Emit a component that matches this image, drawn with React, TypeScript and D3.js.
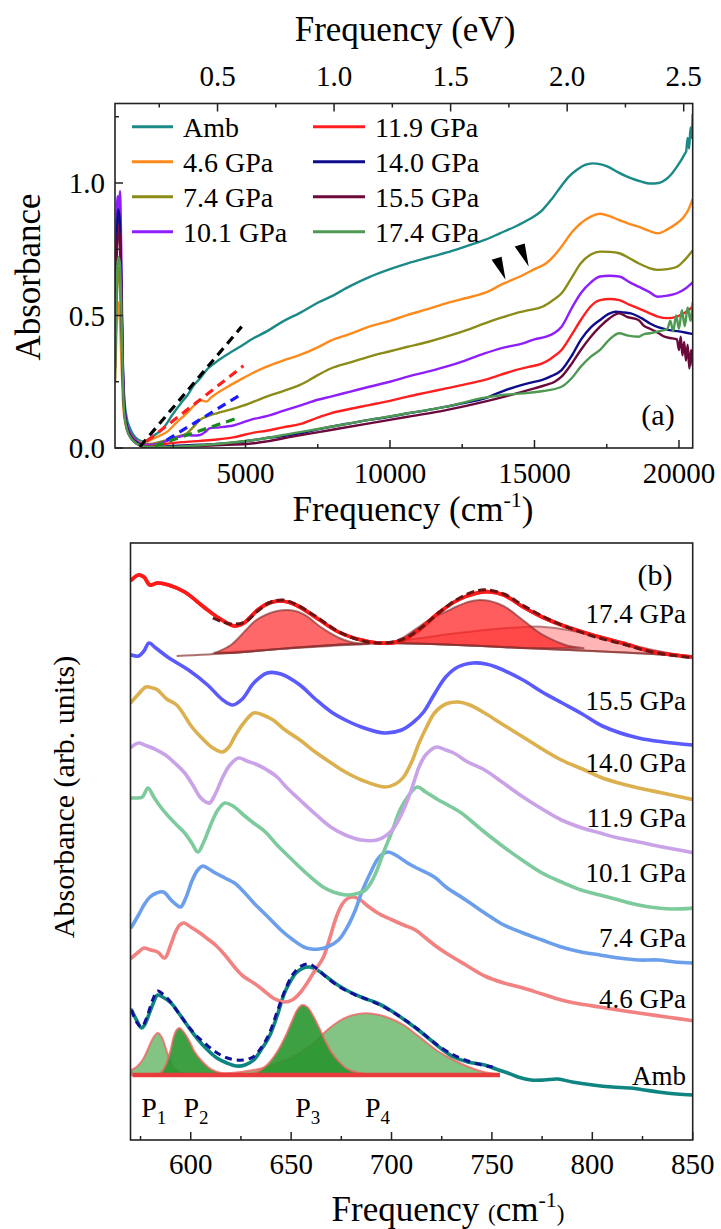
import React from 'react';
import * as d3 from 'd3';

type P = [number, number];

// ================= Panel (a) data =================
const namesA = ['Amb', '4.6 GPa', '7.4 GPa', '10.1 GPa', '11.9 GPa', '14.0 GPa', '15.5 GPa', '17.4 GPa'];
const colorsA = ['#1b8a87', '#ff8a1c', '#8b8b17', '#8f1eff', '#ff1f1f', '#0c0c8c', '#6b0a3a', '#4e9a52'];

const ambA: P[] = [[485,0.35],[540,0.72],[600,0.86],[650,0.8],[700,0.62],[750,0.35],[800,0.2],[880,0.12],[1000,0.075],[1150,0.045],[1300,0.03],[1450,0.025],[1600,0.03],[1800,0.045],[2000,0.06],[2157,0.075],[2500,0.13],[2848,0.18],[3000,0.2],[3200,0.235],[3426,0.262],[3700,0.3],[4003,0.326],[4400,0.355],[4810,0.382],[5289,0.415],[5733,0.44],[6300,0.478],[6886,0.51],[7500,0.548],[7951,0.571],[8600,0.61],[9282,0.645],[10000,0.675],[10613,0.697],[11300,0.718],[11944,0.737],[12600,0.76],[13275,0.785],[13800,0.81],[14340,0.836],[14800,0.862],[15272,0.898],[15600,0.94],[15937,0.99],[16200,1.025],[16470,1.05],[16750,1.068],[17002,1.074],[17300,1.07],[17534,1.062],[17900,1.04],[18333,1.018],[18700,1.005],[18998,0.998],[19300,1.0],[19531,1.012],[19750,1.035],[19930,1.062],[20100,1.09],[20200,1.11],[20250,1.12],[20300,1.17],[20350,1.13],[20400,1.21],[20440,1.17],[20475,1.26]];
const p46A: P[] = [[485,0.25],[540,0.45],[600,0.55],[650,0.5],[700,0.35],[750,0.2],[800,0.12],[900,0.07],[1050,0.04],[1250,0.025],[1450,0.02],[1581,0.025],[1800,0.035],[2000,0.045],[2273,0.06],[2600,0.095],[2965,0.131],[3200,0.158],[3426,0.18],[3657,0.175],[3800,0.19],[4003,0.206],[4400,0.232],[4810,0.257],[5289,0.285],[5733,0.307],[6300,0.33],[6886,0.351],[7500,0.38],[7951,0.405],[8600,0.43],[9282,0.458],[10000,0.48],[10613,0.502],[11300,0.524],[11944,0.546],[12600,0.565],[13275,0.585],[13941,0.621],[14606,0.653],[15000,0.675],[15404,0.697],[15700,0.728],[15937,0.76],[16300,0.815],[16603,0.848],[16950,0.873],[17268,0.884],[17600,0.875],[17934,0.86],[18300,0.845],[18599,0.835],[18950,0.82],[19264,0.81],[19600,0.825],[19930,0.848],[20150,0.87],[20330,0.9],[20475,0.94]];
const p74A: P[] = [[485,0.3],[540,0.55],[600,0.68],[650,0.62],[700,0.45],[750,0.25],[800,0.15],[900,0.08],[1050,0.045],[1250,0.025],[1450,0.015],[1700,0.015],[2000,0.022],[2273,0.03],[2600,0.042],[2965,0.055],[3200,0.08],[3426,0.106],[3700,0.12],[4003,0.131],[4400,0.143],[4810,0.156],[5289,0.175],[5733,0.194],[6300,0.215],[6886,0.238],[7500,0.275],[7951,0.3],[8600,0.322],[9282,0.345],[10000,0.365],[10613,0.382],[11300,0.4],[11944,0.42],[12600,0.443],[13275,0.47],[13800,0.49],[14340,0.508],[14800,0.52],[15272,0.533],[15600,0.555],[15937,0.584],[16300,0.645],[16603,0.697],[16950,0.73],[17268,0.741],[17600,0.74],[17934,0.735],[18300,0.715],[18599,0.697],[18950,0.68],[19264,0.672],[19600,0.675],[19930,0.684],[20200,0.71],[20475,0.745]];
const p101A: P[] = [[485,0.4],[540,0.85],[580,0.95],[620,0.9],[660,0.97],[700,0.75],[750,0.35],[800,0.18],[880,0.1],[1000,0.06],[1150,0.035],[1300,0.02],[1500,0.012],[1800,0.012],[2100,0.02],[2500,0.035],[2800,0.045],[2965,0.049],[3200,0.047],[3426,0.049],[3600,0.06],[3772,0.075],[4100,0.078],[4579,0.085],[5289,0.11],[5733,0.12],[6300,0.14],[6886,0.16],[7500,0.182],[7951,0.194],[8600,0.212],[9282,0.231],[10000,0.25],[10613,0.269],[11300,0.288],[11944,0.307],[12600,0.33],[13275,0.357],[13900,0.378],[14606,0.395],[15000,0.41],[15404,0.42],[15700,0.435],[15937,0.458],[16300,0.53],[16603,0.584],[16950,0.625],[17268,0.647],[17600,0.65],[17934,0.647],[18300,0.625],[18599,0.609],[18950,0.59],[19264,0.571],[19600,0.575],[19930,0.584],[20200,0.6],[20475,0.625]];
const p119A: P[] = [[485,0.35],[540,0.72],[600,0.85],[650,0.8],[700,0.6],[750,0.3],[800,0.16],[900,0.08],[1050,0.045],[1250,0.02],[1500,0.008],[1800,0.008],[2200,0.015],[2800,0.022],[3426,0.027],[4000,0.032],[4579,0.04],[5289,0.058],[5733,0.065],[6300,0.078],[6886,0.09],[7500,0.115],[7951,0.131],[8600,0.147],[9282,0.162],[10000,0.178],[10613,0.194],[11300,0.21],[11944,0.225],[12600,0.24],[13275,0.257],[13800,0.275],[14340,0.294],[14800,0.306],[15272,0.319],[15600,0.34],[15937,0.37],[16300,0.43],[16603,0.483],[16950,0.535],[17268,0.558],[17600,0.562],[17934,0.558],[18300,0.54],[18599,0.527],[18950,0.51],[19264,0.496],[19600,0.49],[19930,0.496],[20200,0.51],[20475,0.533]];
const p140A: P[] = [[485,0.35],[540,0.75],[600,0.9],[650,0.86],[700,0.65],[750,0.32],[800,0.17],[900,0.08],[1050,0.04],[1250,0.02],[1500,0.006],[1800,0.004],[2500,0.008],[3426,0.012],[4000,0.015],[4579,0.02],[5289,0.03],[5733,0.038],[6300,0.045],[6886,0.055],[7500,0.07],[7951,0.08],[8600,0.093],[9282,0.106],[10000,0.118],[10613,0.131],[11300,0.143],[11944,0.156],[12600,0.17],[13275,0.187],[13800,0.21],[14340,0.231],[14800,0.245],[15272,0.257],[15600,0.272],[15937,0.294],[16300,0.35],[16603,0.408],[16950,0.455],[17268,0.483],[17550,0.505],[17801,0.514],[18050,0.512],[18333,0.508],[18700,0.49],[18998,0.47],[19300,0.455],[19664,0.445],[20000,0.44],[20250,0.435],[20475,0.43]];
const p155A: P[] = [[485,0.3],[540,0.68],[600,0.82],[650,0.8],[700,0.6],[750,0.3],[800,0.15],[900,0.07],[1050,0.035],[1250,0.015],[1500,0.004],[2000,0.002],[3000,0.005],[4000,0.01],[5289,0.018],[5733,0.025],[6620,0.043],[7951,0.068],[9282,0.093],[10613,0.118],[11944,0.143],[13275,0.175],[14000,0.195],[14606,0.213],[15000,0.225],[15404,0.238],[15700,0.25],[15937,0.269],[16300,0.32],[16603,0.37],[16950,0.42],[17268,0.458],[17600,0.49],[17934,0.508],[18200,0.495],[18599,0.483],[18800,0.46],[18998,0.45],[19300,0.433],[19500,0.42],[19700,0.415],[19930,0.41],[20000,0.37],[20060,0.42],[20120,0.35],[20180,0.4],[20240,0.33],[20300,0.39],[20360,0.3],[20420,0.37],[20475,0.31]];
const p174A: P[] = [[485,0.25],[540,0.6],[600,0.72],[650,0.7],[700,0.55],[750,0.28],[800,0.14],[900,0.07],[1050,0.035],[1250,0.015],[1500,0.006],[2000,0.004],[3000,0.008],[4000,0.015],[5289,0.03],[6620,0.055],[7951,0.08],[9282,0.106],[10613,0.131],[11944,0.156],[13275,0.19],[13900,0.2],[14606,0.206],[15300,0.215],[15937,0.231],[16300,0.265],[16603,0.307],[16950,0.345],[17268,0.37],[17600,0.41],[17934,0.433],[18200,0.425],[18599,0.42],[18800,0.43],[18998,0.433],[19300,0.44],[19600,0.45],[19700,0.48],[19800,0.44],[19900,0.5],[20000,0.45],[20100,0.52],[20200,0.46],[20300,0.53],[20400,0.48],[20475,0.55]];
const seriesA: P[][] = [ambA, p46A, p74A, p101A, p119A, p140A, p155A, p174A];

// linear-fit dashed segments (panel a)
const fitColorsA = ['#000000', '#ff2020', '#1a1aff', '#1a8a1a'];
const fitSegsA: P[][] = [
  [[1349, 0.005], [4868, 0.458]],
  [[1581, 0.025], [4925, 0.31]],
  [[2273, 0.03], [4751, 0.196]],
  [[1868, 0.008], [4695, 0.112]],
];
const arrowTipsA: P[] = [[14000, 0.635], [14800, 0.685]];

const xTicksA = [5000, 10000, 15000, 20000];
const xMinorA = [2500, 7500, 12500, 17500];
const yTicksA = [0, 0.5, 1.0];
const yMinorA = [0.25, 0.75, 1.25];
const eVTicks = [0.5, 1.0, 1.5, 2.0, 2.5];
const eVMinor = [0.25, 0.75, 1.25, 1.75, 2.25];
const CM_PER_EV = 8065.54;

// ================= Panel (b) data =================
const namesB = ['17.4 GPa', '15.5 GPa', '14.0 GPa', '11.9 GPa', '10.1 GPa', '7.4 GPa', '4.6 GPa', 'Amb'];
const colorsB = ['#ff1a1a', '#5a5aff', '#dcb04e', '#c9a2e8', '#7dca9c', '#6b9fec', '#f28282', '#0f8582'];

const b174: P[] = [[570.5,560],[574,565],[576.7,563],[579.7,555],[583.5,557],[589,555],[597,548],[606.5,533],[614,522],[621.8,514],[626.5,517],[633.3,530],[639,537],[645,539],[652.4,535],[662,523],[673.6,508],[685,500],[696.5,496.7],[706,500],[713.7,510],[723.4,527],[733,540],[742.6,547],[748.3,548.3],[756,545],[765.5,533],[775,523],[784.6,515],[800,505],[815,497],[830.7,488],[850,483]];
const b155: P[] = [[570.5,485],[574,484],[576.7,489],[579.2,497],[582.6,492],[589.2,482],[598.9,470],[608.4,455],[616,440],[620.9,435],[625.7,441],[631.4,457],[638.1,467],[644.9,466],[654.4,455],[662,441],[670,428],[678,419],[685,413],[696.5,407],[705,410],[711,418],[716,428],[721.4,446],[727,463],[733,473],[740.7,477],[747,476],[752,473],[765.5,460],[775,448],[785,437],[795,426],[805,414],[823,402],[850,395]];
const b140: P[] = [[570.5,438],[574,446],[577.7,453],[581,452],[583.5,450],[588,441],[593,435],[600.6,413],[605,403],[610.3,393],[615.7,388],[619,393],[621.8,403],[626,416],[631.4,427],[636,425],[641,420],[647,410],[654.4,400],[662,388],[670,377],[677,368],[685,360],[696.5,353],[702,356],[706,363],[710,378],[713.7,397],[717.5,413],[721.4,427],[727,436],[733,438],[739,435],[746.4,427],[755,416],[765.5,403],[775,391],[784.6,380],[795,371],[803.8,363],[813,357],[823,352],[835,347],[851,340]];
const b119: P[] = [[570.5,393],[574,397],[577,395],[579.7,393],[583,390],[587.4,385],[592,377],[597,367],[601,355],[604.6,343],[607.5,338],[609.4,337],[612,345],[616,363],[619.5,375],[623.8,382],[628,379],[633.4,375],[638,370],[643,363],[648,352],[654.4,340],[662,326],[669.7,313],[677,305],[685,300],[692.8,300],[697,304],[700.4,310],[704,322],[708,340],[711,357],[713.7,373],[717,385],[722.4,393],[727,390],[731,387],[738,378],[746.4,370],[755,358],[765.5,343],[775,331],[784.6,320],[795,312],[803.8,307],[813,302],[823,298],[835,293],[851,287]];
const b101: P[] = [[570.5,342],[573,342],[575.9,343],[578.7,352],[581.6,343],[585,333],[589.2,323],[593,315],[597,307],[600.5,297],[603.6,288],[606.5,298],[610.3,317],[613.5,330],[617,337],[621,334],[627.5,323],[632,316],[637.2,308],[643,295],[650.6,280],[658,266],[665.9,253],[671,248],[677.3,245],[682,246],[687,250],[691,262],[696.5,290],[700.5,310],[704.2,330],[708,343],[712.8,353],[717,348],[723.4,340],[728,335],[734.8,327],[745,310],[755.9,293],[765,280],[775,267],[784.6,258],[794.4,250],[803.8,245],[813.3,240],[823,235],[832.8,232],[840,231],[851,232]];
const b74: P[] = [[570.5,213],[574,225],[577,236],[579.7,243],[583,247],[586.4,248],[590.2,240],[593,235],[595,233],[597.5,242],[600.8,260],[603.5,270],[606,274],[609,271],[612.3,267],[617,262],[621.8,257],[626.5,248],[631.4,237],[638,224],[644.9,210],[651,200],[656.3,193],[660,191],[664,191],[668,193],[673.6,200],[678,213],[682,230],[685,247],[689,265],[692.8,280],[695.5,286],[698.5,288],[702,285],[708,277],[712.5,272],[717.7,267],[722,262],[727.1,253],[737,240],[746.4,227],[755,216],[765.5,207],[775,200],[784.6,193],[794.4,188],[803.8,185],[813.3,182],[823,180],[832.8,180],[841,178],[851,177]];
const b46: P[] = [[570.5,182],[574,188],[576.7,192],[580,190],[583.5,188],[587,182],[590,195],[592.2,207],[594.5,215],[596.6,217],[600,213],[604.6,207],[608.5,201],[612.3,195],[617,185],[621.8,173],[626,164],[631.4,157],[636,150],[641,142],[646.7,138],[650.5,140],[654.4,147],[658,157],[662,170],[665.9,182],[669.7,205],[672.5,223],[675.5,236],[678.5,242],[681.2,243],[684.5,240],[688.8,233],[694,226],[700.4,220],[706,215],[711.9,210],[717,202],[722,194],[727.1,187],[737,175],[746.4,164],[755.9,157],[765.5,152],[775,146],[784.6,140],[794,136],[803.8,133],[813,130],[823,127],[837,123],[851,119]];
const bAmb: P[] = [[570.5,130],[573,120],[575.5,112],[577,115],[578.7,123],[581,135],[583.5,145],[586,143],[590.2,137],[594,127],[598.9,113],[603,102],[608.4,90],[613,82],[618,77],[622.8,74],[627,75],[631.4,80],[635,90],[639,103],[643,124],[646.7,147],[650,160],[652.4,167],[656,172],[659.2,173],[663,170],[669.7,160],[674,154],[679.3,148],[686,142],[692.8,137],[700,129],[708,118],[714,109],[719.5,100],[725,91],[731,83],[738,78],[746.4,75],[752,71],[757.9,67],[763,63],[769.5,60],[776,60],[782.7,61],[790,58],[800.2,55],[810,53],[819.3,52],[826,50],[832.8,48],[842,46],[851,45]];
const seriesB: P[][] = [b174, b155, b140, b119, b101, b74, b46, bAmb];

// 17.4 GPa fit and components
const fit174: P[] = [[611,522],[620,516],[627,518],[634,530],[640,538],[646,540],[652,536],[662,524],[674,508],[686,499],[697,497],[706,501],[714,511],[724,528],[733,541],[742,549],[748,550],[756,546],[766,534],[776,523],[786,514],[800,504],[815,496],[830,488],[850,482]];
const bg174: P[] = [[593,484],[620,487],[650,492],[675,495.5],[696.5,497],[720,496],[745,494],[765,492],[800,489],[830,486],[850,483]];
const compC174: P[] = [[611,487],[640,490.5],[670,494],[696.5,497.5],[715,502],[727,505.5],[742,509],[756,511.7],[766,513],[775,513.3],[788,510],[803.8,503.3],[823,493.3],[838,487],[850,483.3]];
const compA174: P[] = [[612,487],[620,495],[627.5,510],[632,519],[637.2,525],[643,529],[648.7,530],[653,528.5],[658.2,523.3],[664,514],[669.7,506.7],[674,502],[679.3,498.3],[684,496.5],[688.8,496]];
const compB174: P[] = [[700,497],[707,504],[713.7,513.3],[720,522],[727,528.3],[733,534],[738.6,538.3],[744,540],[748.3,539.3],[753,536.5],[757.8,531.7],[762.5,524.5],[767.5,516.7],[772,509.5],[777,503.3],[786.6,495],[796,491.7]];

// Ambient fit and components P1..P4
const fitAmb: P[] = [[570.5,130],[573,118],[575.5,113],[578,122],[581,140],[583.5,149],[586,146],[590,138],[595,124],[601.6,107],[608,95],[614,86],[620,81],[626,80],[631,83],[635,92],[639,106],[643,128],[647,150],[651,166],[655,174],[659,176],[663,171],[668,162],[675,152],[682,145],[690,139],[698,131],[706,121],[713,111],[719,101],[725,92],[731,85],[738,79],[745,75],[750.4,73]];
const baseAmb = 65;
const baseAmbRange: P = [571, 754];
const pk1: P[] = [[570.5,70],[573,73],[576,80],[578.5,90],[581,101],[583.5,107],[585.5,103],[587.5,92],[589.5,80],[592,71],[595,67],[600,65.5]];
const pk2: P[] = [[583,65.5],[585.5,68],[588,77],[590,90],[591.5,103],[593,110],[594.5,112],[596.5,108],[599,100],[602,88],[606,78],[610,71],[615,67],[622,65.5]];
const pk3: P[] = [[628,65.5],[633,68],[638,75],[643,88],[647,103],[650.5,119],[653,130],[655.5,135],[658,133],[661,124],[664,112],[667,99],[670,88],[674,78],[678,71],[684,67],[692,65.5]];
const pk4: P[] = [[605,65.5],[615,66.5],[625,68],[635,71.5],[645,78],[655,88],[662,98],[668,110],[674,119],[680,124.5],[687,126.7],[694,125],[700,121],[706,115],[712,106],[717.7,97],[723,89],[729,82],[735,76],[741,71],[746,68],[752,66]];
const peakNames = ['1', '2', '3', '4'];
const peakLabelX = [581.6, 602.6, 658.3, 693];

const xTicksB = [600, 650, 700, 750, 800, 850];
const xMinorB = [575, 625, 675, 725, 775, 825];

// ================= Layout =================
const FONT = 'Liberation Serif, Times New Roman, DejaVu Serif, serif';
const A = { left: 115, right: 692.7, top: 103.5, bottom: 448 };
const B = { left: 130.5, right: 692.7, top: 543, bottom: 1140 };

const xA = d3.scaleLinear().domain([485, 20475]).range([A.left, A.right]);
const yA = d3.scaleLinear().domain([0, 1.3]).range([A.bottom, A.top]);
const xB = d3.scaleLinear().domain([570, 850]).range([B.left, B.right]);
const yB = d3.scaleLinear().domain([0, 597]).range([B.bottom, B.top]);

const lineA = d3.line<P>().x(d => xA(d[0])).y(d => yA(d[1])).curve(d3.curveMonotoneX);
const lineAStraight = d3.line<P>().x(d => xA(d[0])).y(d => yA(d[1]));
const lineB = d3.line<P>().x(d => xB(d[0])).y(d => yB(d[1])).curve(d3.curveCatmullRom.alpha(0.5));
const areaAmb = d3.area<P>().x(d => xB(d[0])).y0(yB(baseAmb)).y1(d => yB(d[1])).curve(d3.curveCatmullRom.alpha(0.5));

function fillBetween(upper: P[], lower: P[]): string {
  const x0 = upper[0][0], x1 = upper[upper.length - 1][0];
  const low = lower.filter(p => p[0] >= x0 && p[0] <= x1).slice().reverse();
  let d = lineB(upper) || '';
  low.forEach(p => { d += `L${xB(p[0])},${yB(p[1])}`; });
  return d + 'Z';
}

const T: React.CSSProperties = { fontFamily: FONT };

export default function App() {
  const legendRowY = (i: number) => 126.7 + (i % 4) * 35;
  const bLabelY = [613, 700, 762, 817, 872, 937, 998, 1075];
  return (
    <svg width={721} height={1229} viewBox="0 0 721 1229"
      style={{ position: 'absolute', left: 0, top: 0, background: '#fff', fontFamily: FONT }}>
      <defs>
        <clipPath id="clipA"><rect x={A.left} y={A.top} width={A.right - A.left} height={A.bottom - A.top} /></clipPath>
        <clipPath id="clipB"><rect x={B.left} y={B.top} width={B.right - B.left} height={B.bottom - B.top} /></clipPath>
      </defs>
      <rect width={721} height={1229} fill="#fff" />

      {/* ================= Panel (a) ================= */}
      <g clipPath="url(#clipA)">
        {seriesA.map((s, i) => (
          <path key={i} d={lineA(s) || ''} fill="none" stroke={colorsA[i]} strokeWidth={2.4} strokeLinejoin="round" />
        ))}
        {fitSegsA.map((s, i) => (
          <path key={'f' + i} d={lineAStraight(s) || ''} fill="none" stroke={fitColorsA[i]} strokeWidth={3.2} strokeDasharray="9,6" />
        ))}
        {arrowTipsA.map((t, i) => {
          const tx = xA(t[0]), ty = yA(t[1]);
          return <path key={'ar' + i} d={`M${tx},${ty} L${tx - 14},${ty - 20} L${tx - 4},${ty - 23} Z`} fill="#000" />;
        })}
      </g>
      <rect x={A.left} y={A.top} width={A.right - A.left} height={A.bottom - A.top} fill="none" stroke="#222" strokeWidth={1.6} />
      {xTicksA.map(t => (
        <g key={'xa' + t}>
          <line x1={xA(t)} x2={xA(t)} y1={A.bottom} y2={A.bottom - 8} stroke="#222" strokeWidth={1.5} />
          <text style={T} x={xA(t)} y={483} fontSize={29} textAnchor="middle">{t}</text>
        </g>
      ))}
      {xMinorA.map(t => <line key={'xam' + t} x1={xA(t)} x2={xA(t)} y1={A.bottom} y2={A.bottom - 4} stroke="#222" strokeWidth={1.5} />)}
      {eVTicks.map(t => (
        <g key={'ev' + t}>
          <line x1={xA(t * CM_PER_EV)} x2={xA(t * CM_PER_EV)} y1={A.top} y2={A.top + 8} stroke="#222" strokeWidth={1.5} />
          <text style={T} x={xA(t * CM_PER_EV)} y={86} fontSize={29} textAnchor="middle">{t.toFixed(1)}</text>
        </g>
      ))}
      {eVMinor.map(t => <line key={'evm' + t} x1={xA(t * CM_PER_EV)} x2={xA(t * CM_PER_EV)} y1={A.top} y2={A.top + 4} stroke="#222" strokeWidth={1.5} />)}
      {yTicksA.map(t => (
        <g key={'ya' + t}>
          <line x1={A.left} x2={A.left + 8} y1={yA(t)} y2={yA(t)} stroke="#222" strokeWidth={1.5} />
          <text style={T} x={105} y={yA(t) + 10} fontSize={29} textAnchor="end">{t.toFixed(1)}</text>
        </g>
      ))}
      {yMinorA.map(t => <line key={'yam' + t} x1={A.left} x2={A.left + 4} y1={yA(t)} y2={yA(t)} stroke="#222" strokeWidth={1.5} />)}
      <text style={T} x={405} y={41} fontSize={35} textAnchor="middle">Frequency (eV)</text>
      <text style={T} x={413} y={521} fontSize={35} textAnchor="middle">Frequency (cm<tspan fontSize={22} dy={-14}>-1</tspan><tspan dy={14}>)</tspan></text>
      <text style={T} transform="translate(28,277) rotate(-90)" fontSize={35} textAnchor="middle" dy="0.35em">Absorbance</text>
      {namesA.map((n, i) => {
        const col = i < 4 ? 0 : 1;
        const x1 = col === 0 ? 132 : 313;
        const x2 = col === 0 ? 173 : 365;
        const tx = col === 0 ? 183 : 375;
        const y = legendRowY(i);
        return (
          <g key={'lg' + i}>
            <line x1={x1} x2={x2} y1={y} y2={y} stroke={colorsA[i]} strokeWidth={3} />
            <text style={T} x={tx} y={y + 10} fontSize={28}>{n}</text>
          </g>
        );
      })}
      <text style={T} x={658} y={425} fontSize={30} textAnchor="middle">(a)</text>

      {/* ================= Panel (b) ================= */}
      <g clipPath="url(#clipB)">
        {[pk4, pk1, pk2, pk3].map((pk, i) => (
          <path key={'pk' + i} d={areaAmb(pk) || ''}
            fill={i === 0 || i === 1 ? 'rgba(90,175,90,0.75)' : 'rgba(40,150,45,0.9)'}
            stroke="rgba(240,100,100,0.8)" strokeWidth={2} />
        ))}
        <line x1={xB(baseAmbRange[0])} x2={xB(baseAmbRange[1])} y1={yB(baseAmb)} y2={yB(baseAmb)} stroke="#e83c3c" strokeWidth={4.5} />
        {seriesB.slice().reverse().map((s, ri) => {
          const i = seriesB.length - 1 - ri;
          return <path key={'b' + i} d={lineB(s) || ''} fill="none" stroke={colorsB[i]} strokeWidth={3.6} strokeLinejoin="round" strokeLinecap="round" />;
        })}
        <path d={lineB(fitAmb) || ''} fill="none" stroke="#10109a" strokeWidth={3} strokeDasharray="7,5" />
        <path d={fillBetween(compC174, bg174)} fill="rgba(255,70,70,0.4)" stroke="rgba(130,40,40,0.55)" strokeWidth={2} />
        <path d={fillBetween(compA174, bg174)} fill="rgba(255,40,40,0.7)" stroke="rgba(120,40,40,0.6)" strokeWidth={2} />
        <path d={fillBetween(compB174, bg174)} fill="rgba(255,30,30,0.72)" stroke="rgba(120,40,40,0.6)" strokeWidth={2} />
        <path d={lineB(bg174) || ''} fill="none" stroke="rgba(140,50,50,0.7)" strokeWidth={2} />
        <path d={lineB(b174) || ''} fill="none" stroke={colorsB[0]} strokeWidth={3.6} strokeLinejoin="round" />
        <path d={lineB(fit174) || ''} fill="none" stroke="#6b1414" strokeWidth={3} strokeDasharray="8,4" />
      </g>
      <rect x={B.left} y={B.top} width={B.right - B.left} height={B.bottom - B.top} fill="none" stroke="#222" strokeWidth={1.6} />
      {xTicksB.map(t => (
        <g key={'xb' + t}>
          <line x1={xB(t)} x2={xB(t)} y1={B.bottom} y2={B.bottom - 8} stroke="#222" strokeWidth={1.5} />
          <text style={T} x={xB(t)} y={1174} fontSize={29} textAnchor="middle">{t}</text>
        </g>
      ))}
      {xMinorB.map(t => <line key={'xbm' + t} x1={xB(t)} x2={xB(t)} y1={B.bottom} y2={B.bottom - 4} stroke="#222" strokeWidth={1.5} />)}
      {namesB.map((n, i) => (
        <text style={T} key={'nb' + i} x={686} y={bLabelY[i] + 10} fontSize={27} textAnchor="end">{n}</text>
      ))}
      {peakNames.map((p, i) => (
        <text style={T} key={'pn' + i} x={xB(peakLabelX[i])} y={1117} fontSize={28} textAnchor="middle">P<tspan fontSize={19} dy={7}>{p}</tspan></text>
      ))}
      <text style={T} x={655} y={585} fontSize={30} textAnchor="middle">(b)</text>
      <text style={T} x={448} y={1221} fontSize={35} textAnchor="middle">Frequency <tspan fontSize={23}>(</tspan>cm<tspan fontSize={22} dy={-14}>-1</tspan><tspan fontSize={23} dy={14}>)</tspan></text>
      <text style={T} transform="translate(63,797) rotate(-90)" fontSize={30} textAnchor="middle" dy="0.35em">Absorbance (arb. units)</text>
    </svg>
  );
}
